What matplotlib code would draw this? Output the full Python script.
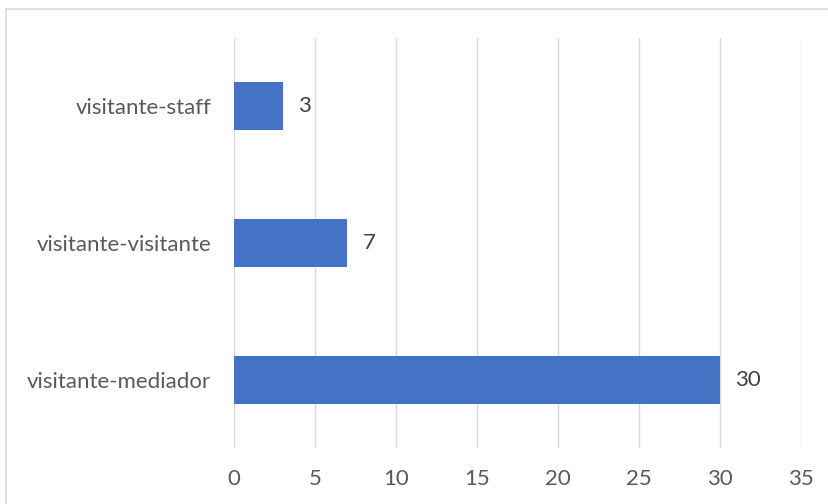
import matplotlib
matplotlib.use("Agg")
import matplotlib.pyplot as plt
from matplotlib.patches import Rectangle

categories = ["visitante-mediador", "visitante-visitante", "visitante-staff"]
values = [30, 7, 3]
xticks = [0, 5, 10, 15, 20, 25, 30, 35]

plt.rcParams['font.family'] = ['Lato', 'DejaVu Sans']
W, H = 829, 504
fig = plt.figure(figsize=(W/100, H/100), dpi=100)
fig.patches.append(Rectangle((6/W, -0.05), 1.0, (504-9)/H + 0.05, transform=fig.transFigure,
                             fill=False, edgecolor='#D9D9D9', linewidth=1.2))
ax = fig.add_axes([234/W, 1-448/H, 567/W, 410/H])
y = list(range(len(categories)))
ax.barh(y, values, height=0.35, color='#4472C4', zorder=3)
for yi, v in zip(y, values):
    ax.text(v + 0.95, yi, str(v), va='center', ha='left', fontsize=16, color='#404040')
ax.set_xlim(0, 35)
ax.set_ylim(-0.5, 2.5)
ax.set_xticks(xticks)
ax.set_yticks(y)
ax.set_yticklabels(categories)
ax.grid(axis='x', color='#D9D9D9', linewidth=1, zorder=0)
for s in ax.spines.values():
    s.set_visible(False)
ax.tick_params(axis='both', length=0, labelsize=16, colors='#595959')
ax.tick_params(axis='x', pad=15)
ax.tick_params(axis='y', pad=16.5)
fig.savefig("out.png", dpi=100)
